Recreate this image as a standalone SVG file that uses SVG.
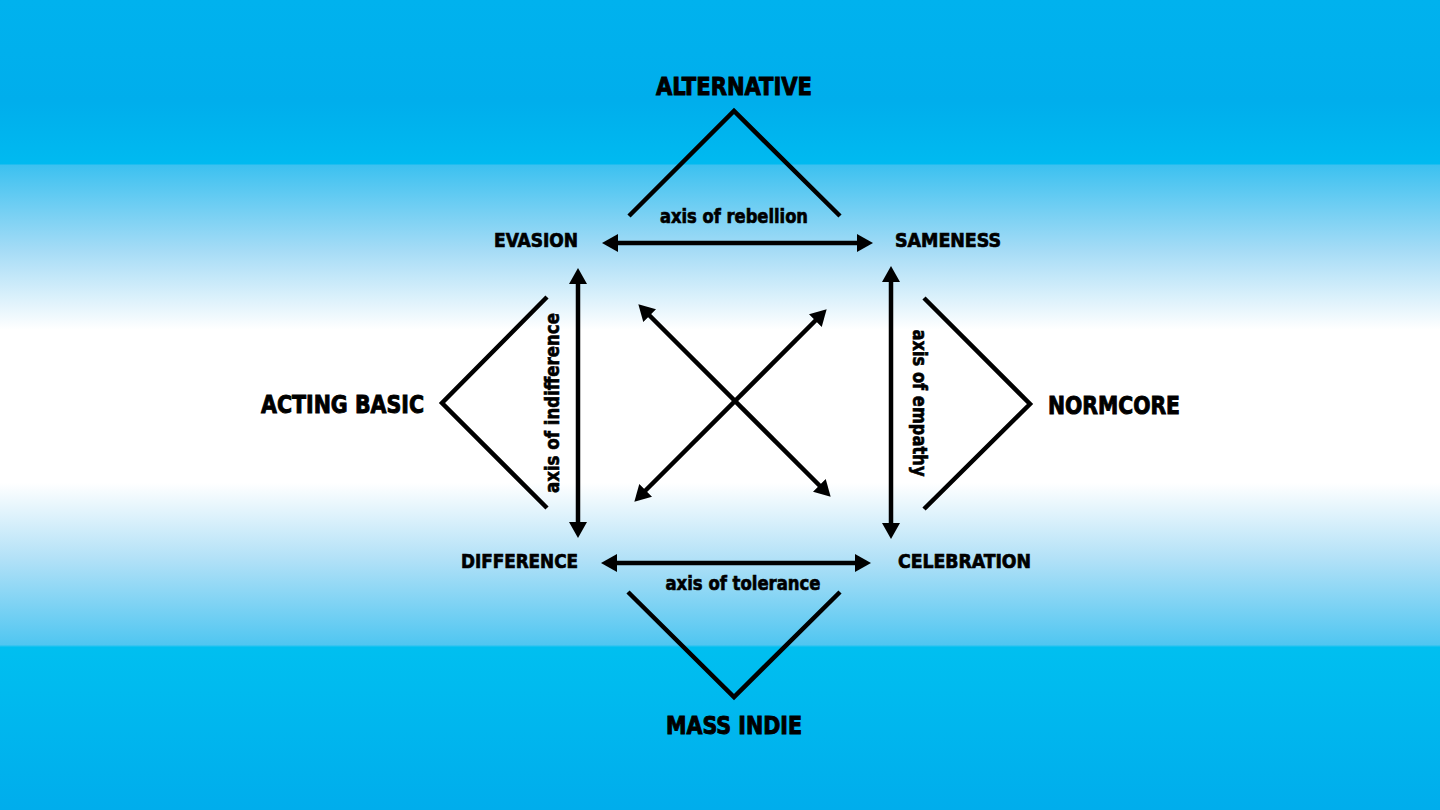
<svg xmlns="http://www.w3.org/2000/svg" width="1440" height="810" viewBox="0 0 1440 810">
<defs>
<linearGradient id="bg" gradientUnits="userSpaceOnUse" x1="0" y1="0" x2="0" y2="810">
<stop offset="0" stop-color="#00b2ee"/>
<stop offset="0.125" stop-color="#00aeec"/>
<stop offset="0.2025" stop-color="#00baf0"/>
<stop offset="0.2037" stop-color="#3cc1f0"/>
<stop offset="0.31" stop-color="#a6dcf6"/>
<stop offset="0.407" stop-color="#ffffff"/>
<stop offset="0.596" stop-color="#ffffff"/>
<stop offset="0.69" stop-color="#b2e1f7"/>
<stop offset="0.796" stop-color="#50c6f1"/>
<stop offset="0.799" stop-color="#00bff0"/>
<stop offset="1" stop-color="#00adec"/>
</linearGradient>
<marker id="ah" viewBox="0 0 16 18" refX="8" refY="9" markerWidth="16" markerHeight="18" markerUnits="userSpaceOnUse" orient="auto-start-reverse">
<path d="M0,0 L16,9 L0,18 z" fill="#000"/>
</marker>
<style>
.big{font-family:"Liberation Sans Narrow","DejaVu Sans Condensed","Liberation Sans",sans-serif;font-weight:bold;font-size:25px;fill:#000;stroke:#000;stroke-width:0.9px}
.mid{font-family:"Liberation Sans Narrow","DejaVu Sans Condensed","Liberation Sans",sans-serif;font-weight:bold;font-size:20px;fill:#000;stroke:#000;stroke-width:0.7px}
.ax{font-family:"Liberation Sans Narrow","DejaVu Sans Condensed","Liberation Sans",sans-serif;font-weight:bold;font-size:19px;fill:#000;stroke:#000;stroke-width:0.6px}
.tri{fill:none;stroke:#000;stroke-width:4.5;stroke-linejoin:miter}
.arr{fill:none;stroke:#000;stroke-width:4.5;marker-start:url(#ah);marker-end:url(#ah)}
</style>
</defs>
<rect x="0" y="0" width="1440" height="810" fill="url(#bg)"/>

<g id="connectors">
<line class="arr" x1="610" y1="243" x2="865" y2="243"/>
<line class="arr" x1="609" y1="563" x2="863" y2="563"/>
<line class="arr" x1="578" y1="276" x2="578" y2="530"/>
<line class="arr" x1="891" y1="274" x2="891" y2="531"/>
<line class="arr" x1="644" y1="310" x2="825" y2="491"/>
<line class="arr" x1="821" y1="315" x2="640" y2="496"/>
</g>

<g id="alternative">
<polyline class="tri" points="629,216 734,111 840,216"/>
<text class="big" x="734" y="95" text-anchor="middle" textLength="156" lengthAdjust="spacingAndGlyphs">ALTERNATIVE</text>
</g>
<g id="mass-indie">
<polyline class="tri" points="628,592 734,697 840,592"/>
<text class="big" x="734" y="734" text-anchor="middle" textLength="136" lengthAdjust="spacingAndGlyphs">MASS INDIE</text>
</g>
<g id="acting-basic">
<polyline class="tri" points="547,297 442,403 547,508"/>
<text class="big" x="424" y="413" text-anchor="end" textLength="163" lengthAdjust="spacingAndGlyphs">ACTING BASIC</text>
</g>
<g id="normcore">
<polyline class="tri" points="924,298 1030,404 924,509"/>
<text class="big" x="1048" y="414" textLength="132" lengthAdjust="spacingAndGlyphs">NORMCORE</text>
</g>

<g id="evasion"><text class="mid" x="578" y="247" text-anchor="end" textLength="84" lengthAdjust="spacingAndGlyphs">EVASION</text></g>
<g id="sameness"><text class="mid" x="895" y="247" textLength="106" lengthAdjust="spacingAndGlyphs">SAMENESS</text></g>
<g id="difference"><text class="mid" x="578" y="568" text-anchor="end" textLength="117" lengthAdjust="spacingAndGlyphs">DIFFERENCE</text></g>
<g id="celebration"><text class="mid" x="898" y="568" textLength="133" lengthAdjust="spacingAndGlyphs">CELEBRATION</text></g>

<g id="axis-labels">
<text class="ax" x="734" y="223" text-anchor="middle" textLength="148" lengthAdjust="spacingAndGlyphs">axis of rebellion</text>
<text class="ax" x="743" y="590" text-anchor="middle" textLength="155" lengthAdjust="spacingAndGlyphs">axis of tolerance</text>
<text class="ax" transform="translate(559,403) rotate(-90)" x="0" y="0" text-anchor="middle" textLength="180" lengthAdjust="spacingAndGlyphs">axis of indifference</text>
<text class="ax" transform="translate(913,403) rotate(90)" x="0" y="0" text-anchor="middle" textLength="147" lengthAdjust="spacingAndGlyphs">axis of empathy</text>
</g>
</svg>
